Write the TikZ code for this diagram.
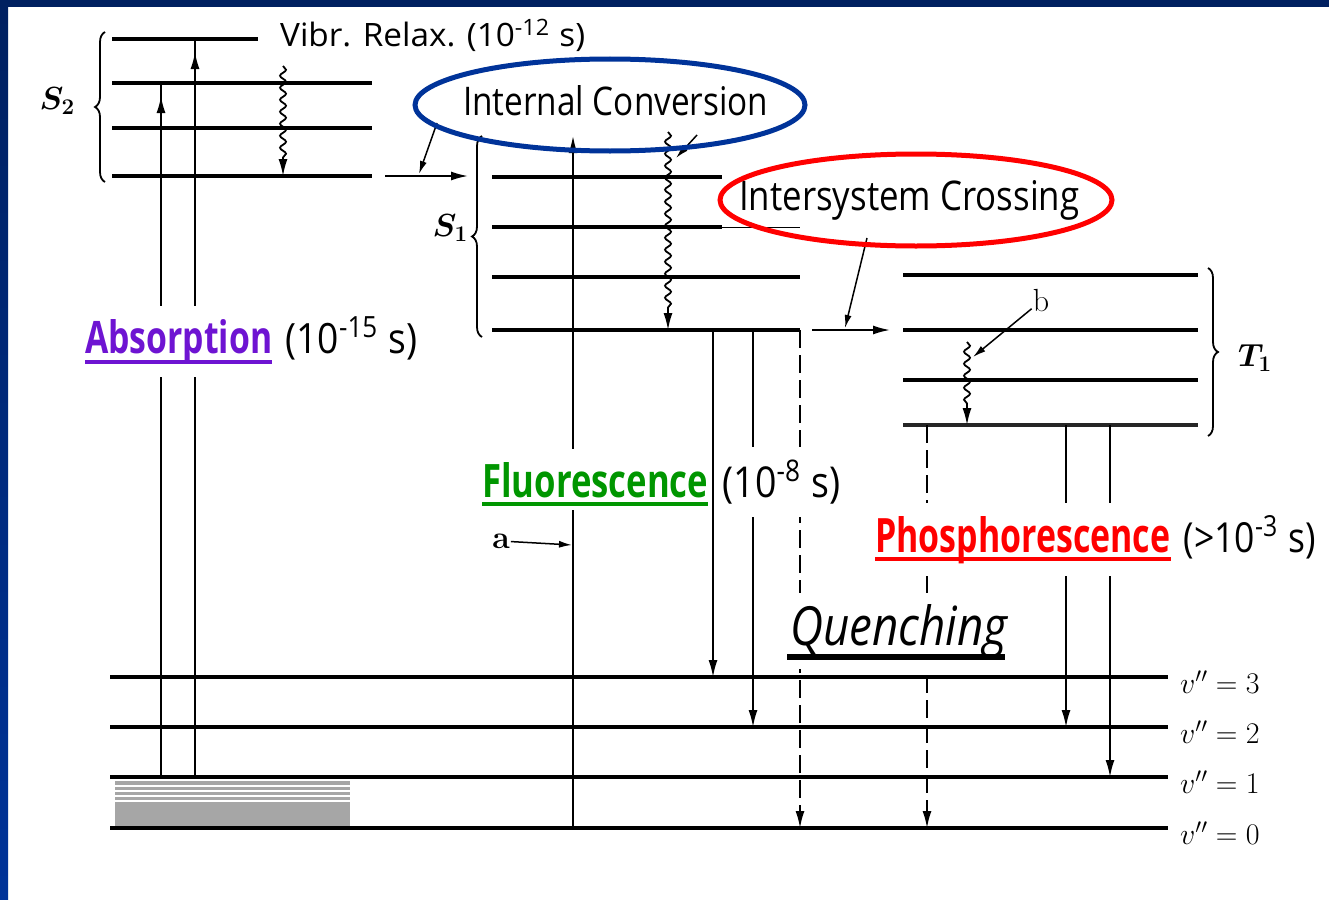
\RequirePackage{fix-cm}
\documentclass[tikz,border=0pt]{standalone}
\usepackage{fontspec}
\setsansfont{Open Sans}
\usepackage{graphicx}
\usepackage{bm}
\usepackage{tikz}
\usetikzlibrary{arrows.meta, positioning, calc, decorations.pathmorphing, decorations.pathreplacing}

\definecolor{slidenavy}{RGB}{0,32,96}
\definecolor{slideblue}{RGB}{0,51,153}
\definecolor{icblue}{RGB}{0,51,153}
\definecolor{absviolet}{RGB}{110,20,210}
\definecolor{fluogreen}{RGB}{0,150,0}
\definecolor{phosred}{RGB}{255,0,0}
\definecolor{groundgray}{RGB}{166,166,166}

\newcommand{\fitto}[3]{\resizebox{#1pt}{#2pt}{#3}}

\begin{document}
\begin{tikzpicture}[
    x=1pt, y=-1pt,
    level/.style={line width=3.2pt},
    vline/.style={line width=1.8pt},
    arrow/.style={-{Latex[length=17pt, width=9pt]}, line width=1.8pt},
    pointer/.style={-{Latex[length=13pt, width=7pt]}, line width=1.5pt},
    wavy/.style={decorate, decoration={snake, amplitude=3pt, segment length=12pt, post length=17pt}, line width=1.5pt},
    quench/.style={dash pattern=on 18pt off 7pt},
    curly/.style={decorate, decoration={brace, amplitude=10pt}, line width=1.8pt},
    proc/.style={fill=white, inner xsep=4pt, inner ysep=13pt, anchor=base west, font=\sffamily},
    state/.style={inner sep=0pt, font=\fontsize{32}{34}\selectfont},
    vib/.style={anchor=west, inner sep=0pt, font=\fontsize{30}{32}\selectfont},
    uline/.style={line width=4pt},
]

% slide frame
\fill[white] (0,0) rectangle (1329,899);
\fill[slidenavy] (0,0) rectangle (1329,7);
\shade[top color=slidenavy, bottom color=slideblue] (0,0) rectangle (8,899);

% ground state
\fill[groundgray] (115,781) rectangle (350,826);
\foreach \y in {786,791,796,801}
  \draw[white, line width=1.4pt] (115,\y) -- (350,\y);
\foreach \y/\v in {677/3, 727/2, 777/1, 828/0} {
  \draw[level] (110,\y) -- (1168,\y);
  \node[vib] (v\v) at (1180,\y+5) {$v'' = \v$};
}

% S2 levels
\draw[level] (112,39) -- (258,39);
\foreach \y in {83,128,176}
  \draw[level] (112,\y) -- (372,\y);
\draw[curly] (105,182) -- (105,32);
\node[state, anchor=east] (s2) at (75,101) {$\bm{S}_{\bm 2}$};

% S1 levels
\draw[level] (492,177) -- (722,177);
\draw[level] (492,227) -- (722,227);
\draw[line width=1pt] (722,227) -- (800,227);
\draw[level] (492,277) -- (800,277);
\draw[level] (492,330) -- (800,330);
\draw[curly] (482,337) -- (482,136);
\node[state, anchor=east] (s1) at (468,228) {$\bm{S}_{\bm 1}$};

% T1 levels
\foreach \y in {275,330,380}
  \draw[level] (903,\y) -- (1198,\y);
\draw[level, line width=4.5pt, black!85] (903,425) -- (1198,425);
\draw[curly] (1208,268) -- (1208,436);
\node[state, anchor=west] (t1) at (1238,358) {$\bm{T}_{\bm 1}$};

% absorption
\draw[vline] (161,777) -- (161,83);
\draw[arrow] (161,777) -- (161,96);
\draw[vline] (195,777) -- (195,39);
\draw[arrow] (195,777) -- (195,52);
\draw[arrow] (573,828) -- (573,136);
\node[font=\bfseries\fontsize{32}{32}\selectfont, inner sep=1pt] (a) at (501,541) {a};
\draw[pointer] (a) -- (572,545);

% vibrational relaxation / internal conversion
\draw[wavy, arrow] (283,66) -- (283,176);
\draw[wavy, arrow] (668,132) -- (668,330);
\draw[arrow] (385,176) -- (468,176);
\draw[pointer] (437,123) -- (419,174);
\draw[pointer] (697,135) -- (676,158);

% intersystem crossing
\draw[arrow] (812,330) -- (890,330);
\draw[pointer] (867,238) -- (845,328);
\draw[wavy, arrow] (967,342) -- (967,425);
\node[font=\fontsize{32}{32}\selectfont, inner sep=1pt] (b) at (1041,301) {b};
\draw[pointer] (b) -- (973,357);

% emission and quenching
\draw[arrow] (713,330) -- (713,677);
\draw[arrow] (753,330) -- (753,727);
\draw[arrow, quench] (800,330) -- (800,828);
\draw[arrow, quench] (927,425) -- (927,828);
\draw[arrow] (1066,425) -- (1066,727);
\draw[arrow] (1110,425) -- (1110,777);

% labels
\node[proc, inner ysep=2pt] (vibr) at (276,47) {\fitto{305}{28}{Vibr. Relax. (10\textsuperscript{-12} s)}};
\node[proc, inner ysep=2pt] (ic) at (459,115) {\fitto{305}{30}{Internal Conversion}};
\node[proc, inner ysep=2pt] (isc) at (735,210) {\fitto{340}{30}{Intersystem Crossing}};

\node[proc] (absw) at (81,353) {\fitto{187}{34}{\bfseries\color{absviolet}Absorption}};
\node[proc, base right=5pt of absw] (abst) {\fitto{132}{36}{(10\textsuperscript{-15} s)}};
\draw[absviolet, uline] ($(absw.base west)+(4,9)$) -- ($(absw.base east)+(-4,9)$);

\node[proc] (fluw) at (478,497) {\fitto{226}{35}{\bfseries\color{fluogreen}Fluorescence}};
\node[proc, base right=6pt of fluw] (flut) {\fitto{118}{37}{(10\textsuperscript{-8} s)}};
\draw[fluogreen, uline] ($(fluw.base west)+(4,7)$) -- ($(fluw.base east)+(-4,7)$);

\node[proc] (phow) at (871,552) {\fitto{295}{36}{\bfseries\color{phosred}Phosphorescence}};
\node[proc, base right=5pt of phow] (phot) {\fitto{132}{36}{(>10\textsuperscript{-3} s)}};
\draw[phosred, uline] ($(phow.base west)+(4,7)$) -- ($(phow.base east)+(-4,7)$);

\node[proc, inner ysep=11pt] (qw) at (786,645) {\fitto{217}{41}{\itshape Quenching}};
\draw[line width=6pt] (787,657) -- (1005,657);

% highlight ellipses
\draw[icblue, line width=5pt] (610,105) ellipse [x radius=195pt, y radius=46pt];
\draw[phosred, line width=5pt] (916,200) ellipse [x radius=196pt, y radius=46pt];

\end{tikzpicture}
\end{document}
